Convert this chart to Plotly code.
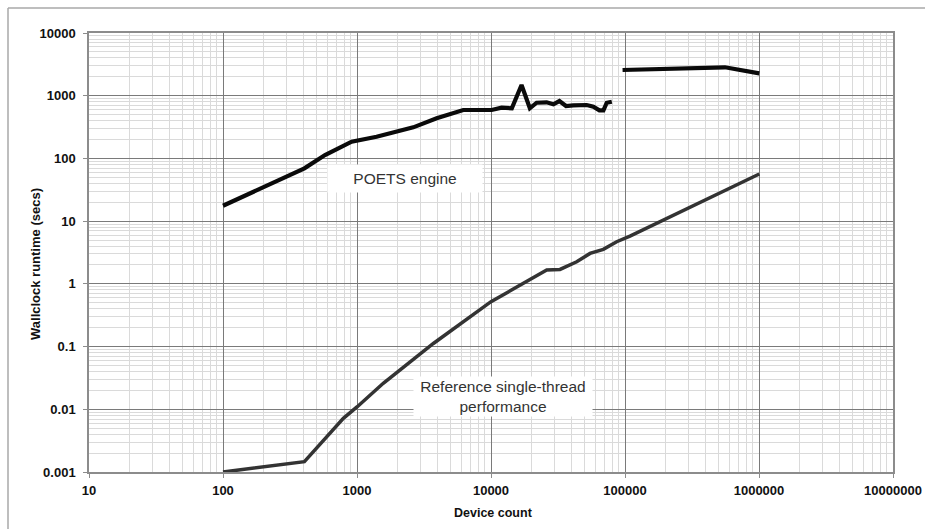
import plotly.graph_objects as go

# POETS engine series (None marks the gap between the two runs)
poets_x = [100, 405, 577, 912, 1400, 2090, 2630, 3930, 6210, 10100, 12000, 14300,
           16900, 19500, 21900, 26000, 29200, 32400, 36300, 41100, 51800, 58100,
           64400, 69000, 73100, 79700, None, 95900, 557000, 1005000]
poets_y = [17.6, 69.5, 113, 185, 222, 277, 313, 436, 592, 592, 644, 630,
           1480, 630, 773, 785, 730, 822, 685, 703, 711, 668,
           585, 585, 773, 801, None, 2570, 2840, 2275]

# Reference single-thread performance
ref_x = [100, 405, 791, 1005, 1570, 3715, 10000, 11670, 16440, 26050, 32720,
         43620, 54840, 68890, 86700, 108900, 1005000]
ref_y = [0.00100, 0.00146, 0.00716, 0.011, 0.026, 0.112, 0.52, 0.63, 0.957, 1.66, 1.70,
         2.25, 3.06, 3.55, 4.70, 5.78, 56.4]

x_ticks = [10, 100, 1000, 10000, 100000, 1000000, 10000000]
x_tick_text = ["10", "100", "1000", "10000", "100000", "1000000", "10000000"]
y_ticks = [0.001, 0.01, 0.1, 1, 10, 100, 1000, 10000]
y_tick_text = ["0.001", "0.01", "0.1", "1", "10", "100", "1000", "10000"]

def minor_vals(lo_exp, hi_exp):
    vals = []
    for e in range(lo_exp, hi_exp):
        for m in range(2, 10):
            vals.append(m * 10 ** e)
    return vals

FONT = "Liberation Sans, Arial, sans-serif"
L, R, T, B = 89, 32, 33, 57
W0, H0 = 925 - L - R, 529 - T - B

def px_x(px):
    return (px - L) / W0

def px_y(py):
    return (529 - B - py) / H0

fig = go.Figure()
fig.add_trace(go.Scatter(x=ref_x, y=ref_y, mode="lines",
                         line=dict(color="#333333", width=3.5), connectgaps=False,
                         showlegend=False))
fig.add_trace(go.Scatter(x=poets_x, y=poets_y, mode="lines",
                         line=dict(color="#0a0a0a", width=4.2), connectgaps=False,
                         showlegend=False))

axis_common = dict(
    type="log",
    showline=True, linecolor="#8c8c8c", linewidth=1.5, mirror=True,
    showgrid=True, gridcolor="#7a7a7a", gridwidth=1,
    ticks="outside", ticklen=4, tickcolor="#8c8c8c", tickwidth=1,
    tickfont=dict(family=FONT, size=13, color="#111111", weight="bold"),
    tickmode="array", zeroline=False,
)

fig.update_xaxes(**axis_common, range=[1, 7], tickvals=x_ticks, ticktext=x_tick_text,
                 ticklabelstandoff=2,
                 minor=dict(tickmode="array", tickvals=minor_vals(1, 7), showgrid=True,
                            gridcolor="#dadada", gridwidth=1, ticks=""))
fig.update_yaxes(**axis_common, range=[-3, 4], tickvals=y_ticks, ticktext=y_tick_text,
                 ticklabelstandoff=5,
                 minor=dict(tickmode="array", tickvals=minor_vals(-3, 4), showgrid=True,
                            gridcolor="#dadada", gridwidth=1, ticks=""))

frame = dict(color="#a8a8a8", width=1.5)
anchors = dict(xref="paper", yref="paper", showarrow=False,
               xanchor="center", yanchor="middle")
fig.update_layout(
    width=925, height=529,
    margin=dict(l=L, r=R, t=T, b=B, autoexpand=False),
    paper_bgcolor="white", plot_bgcolor="white",
    font=dict(family=FONT),
    shapes=[
        dict(type="line", xref="paper", yref="paper", x0=px_x(8), x1=px_x(930),
             y0=px_y(8), y1=px_y(8), line=frame),
        dict(type="line", xref="paper", yref="paper", x0=px_x(8), x1=px_x(8),
             y0=px_y(8), y1=px_y(535), line=frame),
    ],
    annotations=[
        dict(text="POETS engine", x=px_x(405), y=px_y(178.5), **anchors,
             bgcolor="white", borderpad=5, width=144,
             font=dict(family=FONT, size=15.5, color="#333333")),
        dict(text="Reference single-thread<br>performance", x=px_x(503), y=px_y(396),
             **anchors, bgcolor="white", borderpad=1, width=176,
             font=dict(family=FONT, size=15.5, color="#333333")),
        dict(text="Wallclock runtime (secs)", x=px_x(35), y=px_y(264), **anchors,
             textangle=-90,
             font=dict(family=FONT, size=13, color="#111111", weight="bold")),
        dict(text="Device count", x=px_x(493.5), y=px_y(513), **anchors,
             font=dict(family=FONT, size=12.5, color="#111111", weight="bold")),
    ],
)

fig.write_html("out.html", config={"displayModeBar": False})

# remove the default 8px body margin so the figure sits at the page origin
with open("out.html", "r", encoding="utf-8") as f:
    html = f.read()
html = html.replace("<body>", '<body style="margin:0;padding:0;">', 1)
with open("out.html", "w", encoding="utf-8") as f:
    f.write(html)
